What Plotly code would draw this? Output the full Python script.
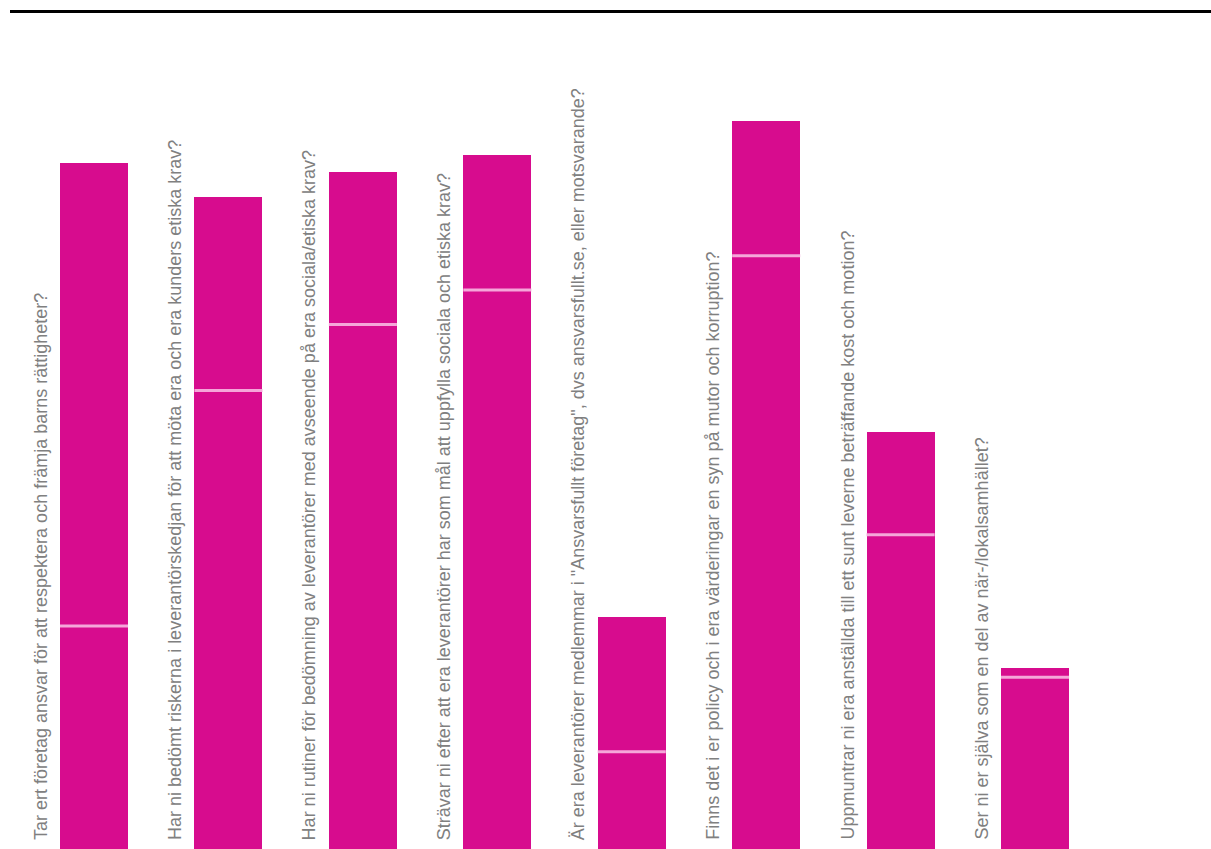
import plotly.graph_objects as go

questions = [
    "Tar ert företag ansvar för att respektera och främja barns rättigheter?",
    "Har ni bedömt riskerna i leverantörskedjan för att möta era och era kunders etiska krav?",
    "Har ni rutiner för bedömning av leverantörer med avseende på era sociala/etiska krav?",
    "Strävar ni efter att era leverantörer har som mål att uppfylla sociala och etiska krav?",
    "Är era leverantörer medlemmar i \"Ansvarsfullt företag\", dvs ansvarsfullt.se, eller motsvarande?",
    "Finns det i er policy och i era värderingar en syn på mutor och korruption?",
    "Uppmuntrar ni era anställda till ett sunt leverne beträffande kost och motion?",
    "Ser ni er själva som en del av när-/lokalsamhället?",
]
lower_vals = [26.6, 54.7, 62.6, 66.7, 11.6, 70.8, 37.5, 20.5]
upper_vals = [55.3, 23.1, 18.2, 16.1, 16.1, 16.1, 12.3, 1.1]

BAR = "#d70c8e"
SEP = "#f5a6d9"

idx = list(range(len(questions)))

fig = go.Figure()
fig.add_trace(go.Bar(x=idx, y=lower_vals, marker=dict(color=BAR, line=dict(width=0)),
                     width=0.506, hoverinfo="skip"))
fig.add_trace(go.Bar(x=idx, y=upper_vals, marker=dict(color=BAR, line=dict(width=0)),
                     width=0.506, hoverinfo="skip"))
fig.add_trace(go.Scatter(x=idx, y=lower_vals, mode="markers",
                         marker=dict(symbol="line-ew", size=48.6,
                                     line=dict(color=SEP, width=3)),
                         hoverinfo="skip"))

for i, q in enumerate(questions):
    fig.add_annotation(x=i - 0.398, y=0, xref="x", yref="y", text=q,
                       textangle=-90, showarrow=False, xanchor="center",
                       yanchor="bottom", yshift=7,
                       font=dict(family="Liberation Sans, Arial", size=18, color="#808080"))

fig.update_layout(
    barmode="stack",
    width=1211, height=849,
    margin=dict(l=10, r=0, t=13, b=0),
    paper_bgcolor="white", plot_bgcolor="white",
    showlegend=False,
    xaxis=dict(range=[-0.625, 8.309], showgrid=False, zeroline=False,
               showticklabels=False, ticks="", side="top",
               showline=True, linecolor="black", linewidth=3),
    yaxis=dict(range=[0, 99.76], showgrid=False, zeroline=False,
               showticklabels=False, ticks="", showline=False),
)

fig.write_html("out.html",
               config={"displayModeBar": False},
               post_script="document.body.style.margin='0';document.body.style.overflow='hidden';")
